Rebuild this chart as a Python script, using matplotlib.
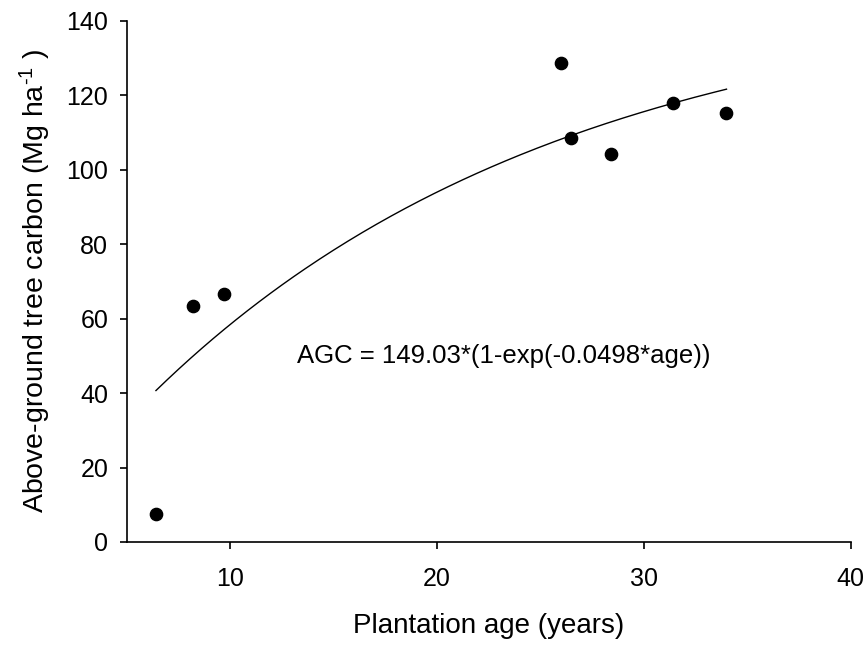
import numpy as np
import matplotlib
matplotlib.use("Agg")
import matplotlib.pyplot as plt

plt.rcParams['font.family'] = ['Liberation Sans', 'DejaVu Sans']
plt.rcParams['mathtext.fontset'] = 'custom'
plt.rcParams['mathtext.rm'] = 'Liberation Sans'
plt.rcParams['mathtext.it'] = 'Liberation Sans'

# Observed data
age = [6.4, 8.2, 9.7, 26.0, 26.5, 28.4, 31.4, 34.0]
agc = [7.5, 63.5, 66.7, 128.6, 108.4, 104.1, 117.8, 115.2]

# Fitted model parameters (from the equation shown)
a_param = 149.03
k_param = 0.0498
fit_start, fit_end = 6.4, 34.0

xticks = [10, 20, 30, 40]
yticks = [0, 20, 40, 60, 80, 100, 120, 140]

fig = plt.figure(figsize=(8.67, 6.48), dpi=100)
ax = fig.add_axes([0.1465, 0.1636, 0.8345, 0.8044])

xf = np.linspace(fit_start, fit_end, 200)
yf = a_param * (1 - np.exp(-k_param * xf))
ax.plot(xf, yf, color='black', lw=1.0)
ax.scatter(age, agc, s=78, color='black', zorder=3)

ax.text(13.2, 50, "AGC = 149.03*(1-exp(-0.0498*age))", fontsize=18.5,
        va='center', ha='left')

ax.set_xlim(5, 40)
ax.set_ylim(0, 140)
ax.set_xticks(xticks)
ax.set_yticks(yticks)
for s in ['top', 'right']:
    ax.spines[s].set_visible(False)
for s in ['left', 'bottom']:
    ax.spines[s].set_linewidth(1.2)
ax.tick_params(direction='out', length=5, width=1.2, labelsize=18)
ax.tick_params(axis='y', pad=8.5)
ax.tick_params(axis='x', pad=13)

ax.set_xlabel("Plantation age (years)", fontsize=20, labelpad=16)
ax.set_ylabel(r"Above-ground tree carbon (Mg ha$^{\text{-1}}$ )", fontsize=20.5, labelpad=10)

fig.savefig("out.png", dpi=100)
